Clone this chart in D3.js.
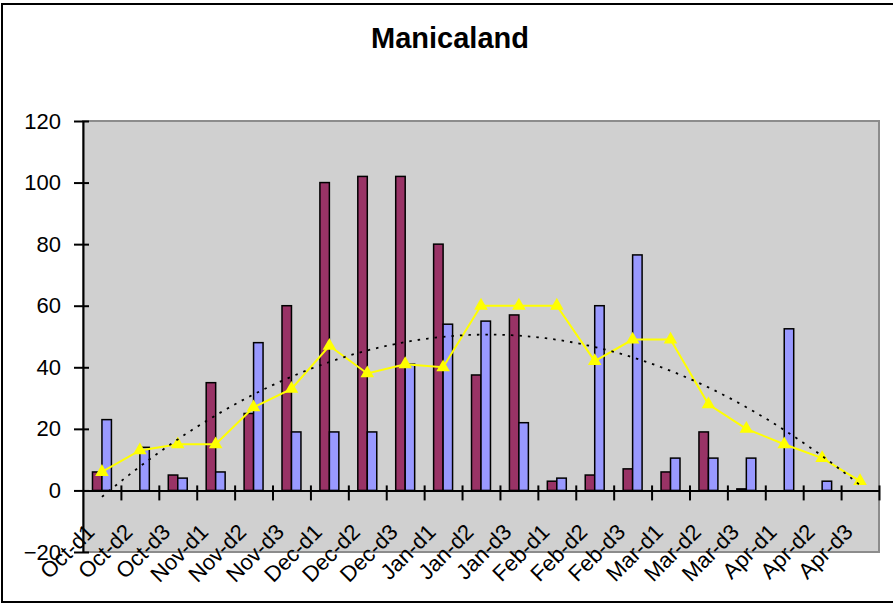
<!DOCTYPE html>
<html>
<head>
<meta charset="utf-8">
<script src="https://cdn.jsdelivr.net/npm/d3@7"></script>
<style>
  body { margin: 0; background: #fff; }
  text { font-family: "Liberation Sans", Arial, sans-serif; fill: #000; }
</style>
</head>
<body>
<div id="container"></div>
<script>
const categories = ["Oct-d1", "Oct-d2", "Oct-d3", "Nov-d1", "Nov-d2", "Nov-d3",
    "Dec-d1", "Dec-d2", "Dec-d3", "Jan-d1", "Jan-d2", "Jan-d3",
    "Feb-d1", "Feb-d2", "Feb-d3", "Mar-d1", "Mar-d2", "Mar-d3",
    "Apr-d1", "Apr-d2", "Apr-d3"];
const purpleValues = [6, 0, 5, 35, 25, 60, 100, 102, 102, 80, 37.5, 57, 3, 5, 7, 6, 19, 0.5, 0, 0, 0];
const blueValues = [23, 14, 4, 6, 48, 19, 19, 19, 41, 54, 55, 22, 4, 60, 76.5, 10.5, 10.5, 10.5, 52.5, 3, 0];
const lineValues = [6, 13, 15, 15, 27, 33, 47, 38, 41, 40, 60, 60, 60, 42, 49, 49, 28, 20, 15, 10.5, 3];
const yTicks = [-20, 0, 20, 40, 60, 80, 100, 120];

const width = 893, height = 608;
const plotLeft = 83, plotRight = 879, plotTop = 121, plotBottom = 552;

const svg = d3.select("#container").append("svg")
    .attr("width", width)
    .attr("height", height);

// outer chart border (right side runs off the picture)
svg.append("rect")
    .attr("x", 2).attr("y", 4)
    .attr("width", 910).attr("height", 598)
    .attr("fill", "#fff")
    .attr("stroke", "#000")
    .attr("stroke-width", 2);

svg.append("text")
    .attr("x", 450).attr("y", 48)
    .attr("text-anchor", "middle")
    .attr("font-size", 29)
    .attr("font-weight", "bold")
    .text("Manicaland");

const y = d3.scaleLinear().domain([-20, 120]).range([plotBottom, plotTop]);
const x = d3.scaleBand().domain(categories).range([plotLeft, plotRight]).padding(0);
const x1 = d3.scaleBand().domain(["purple", "blue"]).range([0, x.bandwidth()]).paddingInner(0).paddingOuter(1);
const colors = { purple: "#993366", blue: "#9999FF" };

// plot area
svg.append("rect")
    .attr("x", plotLeft).attr("y", plotTop)
    .attr("width", plotRight - plotLeft).attr("height", plotBottom - plotTop)
    .attr("fill", "#d0d0d0")
    .attr("stroke", "#8c8c8c")
    .attr("stroke-width", 2);

const rows = categories.map(function(c, i) {
    return { cat: c, purple: purpleValues[i], blue: blueValues[i], line: lineValues[i] };
});

const groups = svg.append("g").selectAll("g")
    .data(rows)
    .enter().append("g")
    .attr("transform", d => `translate(${x(d.cat)},0)`);

groups.selectAll("rect")
    .data(d => ["purple", "blue"].map(k => ({ key: k, value: d[k] })).filter(v => v.value > 0))
    .enter().append("rect")
    .attr("x", d => x1(d.key))
    .attr("width", x1.bandwidth())
    .attr("y", d => y(d.value))
    .attr("height", d => y(0) - y(d.value))
    .attr("fill", d => colors[d.key])
    .attr("stroke", "#000")
    .attr("stroke-width", 1.5);

// y axis with crossing ticks
const yAxis = svg.append("g")
    .attr("transform", `translate(${plotLeft},0)`)
    .call(d3.axisLeft(y).tickValues(yTicks).tickSizeInner(9).tickSizeOuter(0).tickPadding(13));
yAxis.select(".domain").attr("stroke", "#000").attr("stroke-width", 2);
yAxis.selectAll(".tick line").attr("x1", 6).attr("stroke-width", 2);
yAxis.selectAll(".tick text").attr("font-size", 22).attr("font-family", "Liberation Sans, Arial, sans-serif");

// x axis at zero, ticks between categories
const xEdge = d3.scaleLinear().domain([0, categories.length]).range([plotLeft, plotRight]);
const xAxis = svg.append("g")
    .attr("transform", `translate(0,${y(0)})`)
    .call(d3.axisBottom(xEdge).tickValues(d3.range(1, categories.length + 1)).tickFormat("").tickSizeInner(10).tickSizeOuter(0));
xAxis.select(".domain").attr("stroke", "#000").attr("stroke-width", 2);
xAxis.selectAll(".tick line").attr("y1", -5).attr("stroke-width", 2);

svg.append("g").selectAll("text")
    .data(categories)
    .enter().append("text")
    .attr("text-anchor", "end")
    .attr("font-size", 22)
    .attr("transform", d => `translate(${x(d) + x.bandwidth() / 2 - 6},${y(0) + 43}) rotate(-45)`)
    .text(d => d);

// yellow line with triangle markers
const cx = d => x(d.cat) + x.bandwidth() / 2;
svg.append("path")
    .datum(rows)
    .attr("fill", "none")
    .attr("stroke", "#FFFF00")
    .attr("stroke-width", 2)
    .attr("d", d3.line().x(cx).y(d => y(d.line)));

svg.append("g").selectAll("path")
    .data(rows)
    .enter().append("path")
    .attr("transform", d => `translate(${cx(d)},${y(d.line)})`)
    .attr("d", d3.symbol(d3.symbolTriangle, 80))
    .attr("fill", "#FFFF00");

// 2nd order polynomial trendline fitted to the line series
const n = lineValues.length;
const idx = d3.range(1, n + 1);
function fitQuadratic(xs, ys) {
    let s = [0, 0, 0, 0, 0], t = [0, 0, 0];
    xs.forEach(function(xv, i) {
        for (let p = 0; p < 5; p++) s[p] += Math.pow(xv, p);
        for (let p = 0; p < 3; p++) t[p] += Math.pow(xv, p) * ys[i];
    });
    const m = [[s[0], s[1], s[2], t[0]], [s[1], s[2], s[3], t[1]], [s[2], s[3], s[4], t[2]]];
    for (let i = 0; i < 3; i++) {
        for (let j = i + 1; j < 3; j++) {
            const f = m[j][i] / m[i][i];
            for (let k = i; k < 4; k++) m[j][k] -= f * m[i][k];
        }
    }
    const c = [0, 0, 0];
    for (let i = 2; i >= 0; i--) {
        let v = m[i][3];
        for (let k = i + 1; k < 3; k++) v -= m[i][k] * c[k];
        c[i] = v / m[i][i];
    }
    return c;
}
const coef = fitQuadratic(idx, lineValues);
const xIdx = d3.scaleLinear().domain([1, n]).range([cx(rows[0]), cx(rows[n - 1])]);
const trendPts = d3.range(1, n + 0.001, 0.1).map(v => [v, coef[0] + coef[1] * v + coef[2] * v * v]);
svg.append("path")
    .datum(trendPts)
    .attr("fill", "none")
    .attr("stroke", "#000")
    .attr("stroke-width", 1.8)
    .attr("stroke-dasharray", "2.5,6")
    .attr("d", d3.line().x(d => xIdx(d[0])).y(d => y(d[1])));
</script>
</body>
</html>
